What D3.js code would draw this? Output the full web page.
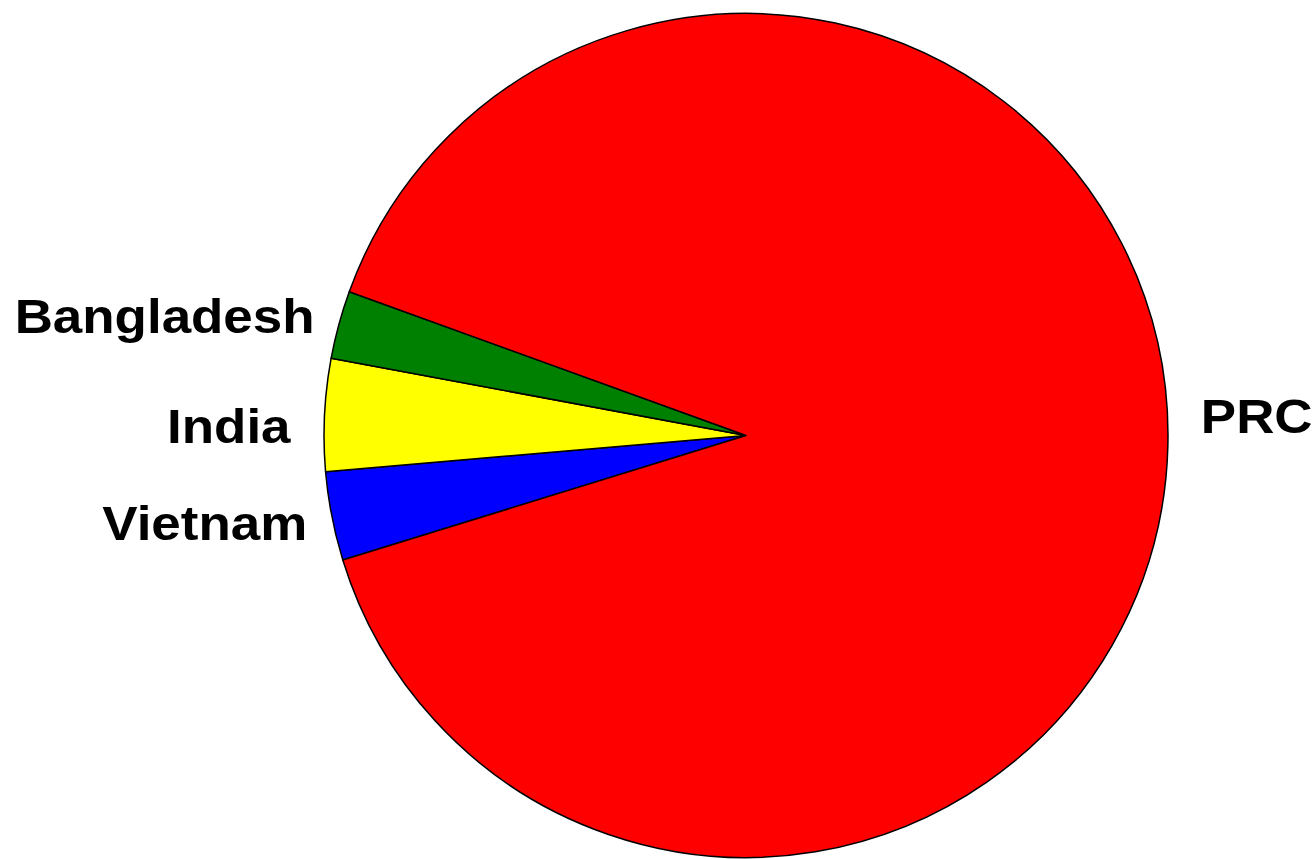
<!DOCTYPE html>
<html>
<head>
<meta charset="utf-8">
<script src="https://cdn.jsdelivr.net/npm/d3@7"></script>
<style>
  html, body { margin: 0; padding: 0; background: #ffffff; }
  svg { display: block; }
  .label { font-family: "Liberation Sans", Arial, Helvetica, sans-serif; font-weight: bold; font-size: 49px; fill: #000; }
</style>
</head>
<body>
<svg id="chart" width="1316" height="859"></svg>
<script>
// Share of production by country (%)
const countries = ["Vietnam", "India", "Bangladesh", "PRC"];
const shares = [3.4, 4.3, 2.6, 89.7];
const sliceColors = ["#0000ff", "#ffff00", "#008000", "#ff0000"];

const width = 1316, height = 859;
const cx = 746, cy = 435.5, radius = 422;
const startDeg = 252.84 - 360;

// Label fine placement relative to the slice's mid-angle anchor
const labelNudge = { Vietnam: [-5, 2], India: [-14, 11], Bangladesh: [-5, -4], PRC: [13, -31] };
const labelStretch = 1.08;

const data = countries.map((c, i) => ({ country: c, value: shares[i], color: sliceColors[i] }));

const pie = d3.pie()
  .sort(null)
  .value(d => d.value)
  .startAngle(startDeg * Math.PI / 180)
  .endAngle(startDeg * Math.PI / 180 + 2 * Math.PI);

const arc = d3.arc().innerRadius(0).outerRadius(radius);
const labelR = radius + 20;

const svg = d3.select("#chart");
const g = svg.append("g").attr("transform", `translate(${cx},${cy})`);

const arcs = pie(data);

g.selectAll("path.slice")
  .data(arcs)
  .join("path")
  .attr("class", "slice")
  .attr("d", arc)
  .attr("fill", d => d.data.color)
  .attr("stroke", "#000")
  .attr("stroke-width", 1.5)
  .attr("stroke-linejoin", "round");

g.selectAll("text.label")
  .data(arcs)
  .join("text")
  .attr("class", "label")
  .each(function(d) {
    const mid = (d.startAngle + d.endAngle) / 2;
    const nx = Math.sin(mid), ny = -Math.cos(mid);
    const nudge = labelNudge[d.data.country] || [0, 0];
    const x = nx * labelR + nudge[0];
    const y = ny * labelR + nudge[1] + 18;
    d3.select(this)
      .attr("transform", `translate(${x},${y}) scale(${labelStretch},1)`)
      .attr("text-anchor", nx < 0 ? "end" : "start")
      .text(d.data.country);
  });
</script>
</body>
</html>
